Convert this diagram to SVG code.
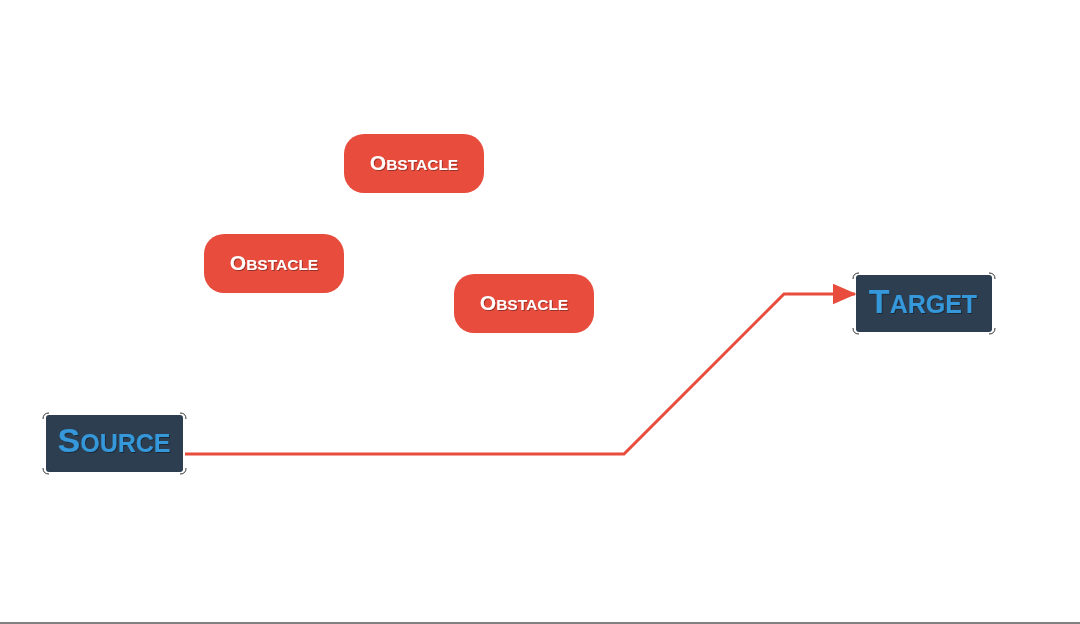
<svg xmlns="http://www.w3.org/2000/svg" width="1080" height="624" viewBox="0 0 1080 624">
<defs>
<style>
.obs rect{fill:#e74c3c;}
.obs text{font-family:'Liberation Sans',Arial,Helvetica,sans-serif;font-weight:bold;fill:#ffffff;text-anchor:middle;}
.term rect.box{fill:#2c3e50;}
.term text{font-family:'Liberation Sans',Arial,Helvetica,sans-serif;font-weight:bold;fill:#3498db;text-anchor:middle;}
.corner{fill:none;stroke:#333;stroke-width:1;}
.big{font-size:21px;}
.small{font-size:15.5px;}
.tbig{font-size:34px;}
.tsmall{font-size:25px;}
.edge{fill:none;stroke:#e74c3c;stroke-width:3;}
</style>
<filter id="sh" x="-10%" y="-10%" width="120%" height="130%">
<feDropShadow dx="1" dy="1" stdDeviation="0.5" flood-color="#000" flood-opacity="0.35"/>
</filter>
<marker id="arr" markerWidth="8" markerHeight="7" refX="7.5" refY="3.5" orient="auto" markerUnits="strokeWidth">
<path d="M0,0 L8,3.5 L0,7 Z" fill="#e74c3c"/>
</marker>
</defs>
<rect x="0" y="0" width="1080" height="624" fill="#ffffff"/>
<rect x="0" y="622" width="1080" height="2" fill="#808080"/>

<g id="connectors">
<polyline class="edge" points="185,454 624,454 784,294 855,294" marker-end="url(#arr)"/>
</g>

<g id="obstacle1" class="obs">
<rect x="344" y="134" width="140" height="59" rx="20"/>
<text x="414" y="170" filter="url(#sh)"><tspan class="big">O</tspan><tspan class="small">BSTACLE</tspan></text>
</g>
<g id="obstacle2" class="obs">
<rect x="204" y="234" width="140" height="59" rx="20"/>
<text x="274" y="270" filter="url(#sh)"><tspan class="big">O</tspan><tspan class="small">BSTACLE</tspan></text>
</g>
<g id="obstacle3" class="obs">
<rect x="454" y="274" width="140" height="59" rx="20"/>
<text x="524" y="310" filter="url(#sh)"><tspan class="big">O</tspan><tspan class="small">BSTACLE</tspan></text>
</g>

<g id="source" class="term">
<rect class="box" x="46" y="415" width="137" height="57" rx="3"/>
<path class="corner" d="M43,419 Q43,413 49,413 M180,413 Q186,413 186,419 M186,468 Q186,474 180,474 M49,474 Q43,474 43,468"/>
<text x="114" y="452" filter="url(#sh)"><tspan class="tbig">S</tspan><tspan class="tsmall">OURCE</tspan></text>
</g>

<g id="target" class="term">
<rect class="box" x="856" y="275" width="136" height="57" rx="3"/>
<path class="corner" d="M853,279 Q853,273 859,273 M989,273 Q995,273 995,279 M995,328 Q995,334 989,334 M859,334 Q853,334 853,328"/>
<text x="923" y="313" filter="url(#sh)"><tspan class="tbig">T</tspan><tspan class="tsmall">ARGET</tspan></text>
</g>
</svg>
